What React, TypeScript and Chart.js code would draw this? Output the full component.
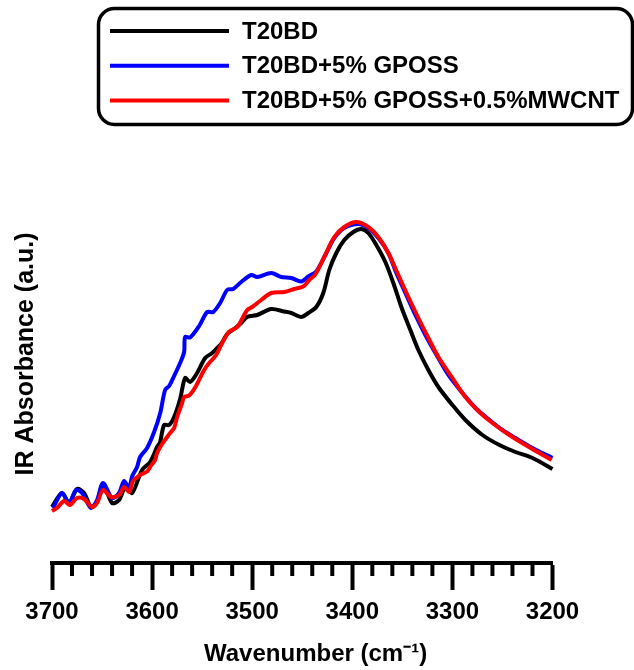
import React, { useEffect, useRef } from "react";
import { Chart, registerables } from "chart.js";

Chart.register(...registerables);

const seriesLabels = ["T20BD", "T20BD+5% GPOSS", "T20BD+5% GPOSS+0.5%MWCNT"];
const seriesColors = ["#000000", "#0000ff", "#ff0000"];

const xMin = 3200;
const xMax = 3700;
const majorStep = 100;
const minorStep = 20;
const xTitle = "    Wavenumber (cm\u207B\u00B9)";
const yTitle = "IR Absorbance (a.u.)";

const blackWavenumber = [3700, 3690, 3683, 3675, 3668, 3661, 3655, 3649, 3640, 3633, 3626, 3620, 3610, 3602, 3595, 3592, 3588, 3583, 3578, 3572, 3567, 3562, 3555, 3547, 3540, 3535, 3531, 3525, 3518, 3511, 3505, 3495, 3481, 3468, 3461, 3451, 3444, 3436, 3429, 3423, 3416, 3408, 3399, 3391, 3384, 3376, 3367, 3359, 3351, 3342, 3334, 3324, 3314, 3300, 3287, 3270, 3253, 3237, 3220, 3200];
const blackAbsorbance = [0.52, 0.66, 0.56, 0.70, 0.66, 0.52, 0.57, 0.75, 0.56, 0.59, 0.74, 0.66, 0.89, 0.97, 1.12, 1.17, 1.34, 1.34, 1.42, 1.60, 1.81, 1.77, 1.86, 2.01, 2.06, 2.11, 2.15, 2.25, 2.30, 2.36, 2.42, 2.44, 2.50, 2.475, 2.46, 2.42, 2.46, 2.52, 2.66, 2.89, 3.06, 3.19, 3.27, 3.30, 3.26, 3.14, 2.97, 2.76, 2.52, 2.29, 2.09, 1.89, 1.72, 1.54, 1.39, 1.24, 1.14, 1.07, 1.01, 0.90];

const blueWavenumber = [3699, 3690, 3683, 3676, 3670, 3661, 3655, 3649, 3640, 3633, 3628, 3623, 3620, 3615, 3612, 3605, 3598, 3592, 3587, 3583, 3578, 3572, 3568, 3567, 3562, 3553, 3545, 3539, 3532, 3525, 3519, 3511, 3501, 3495, 3481, 3471, 3461, 3451, 3444, 3436, 3426, 3418, 3408, 3394, 3384, 3374, 3364, 3356, 3347, 3337, 3327, 3317, 3304, 3290, 3277, 3263, 3250, 3237, 3220, 3200];
const blueAbsorbance = [0.51, 0.66, 0.56, 0.69, 0.66, 0.51, 0.59, 0.76, 0.61, 0.66, 0.78, 0.71, 0.825, 0.92, 1.02, 1.11, 1.27, 1.455, 1.69, 1.73, 1.83, 1.96, 2.07, 2.22, 2.215, 2.33, 2.47, 2.47, 2.56, 2.69, 2.70, 2.77, 2.84, 2.82, 2.86, 2.82, 2.81, 2.775, 2.825, 2.875, 3.06, 3.21, 3.31, 3.35, 3.31, 3.21, 3.06, 2.86, 2.66, 2.44, 2.24, 2.06, 1.84, 1.66, 1.51, 1.39, 1.29, 1.21, 1.11, 1.01];

const redWavenumber = [3700, 3695, 3688, 3682, 3675, 3668, 3660, 3655, 3649, 3641, 3633, 3628, 3623, 3619, 3612, 3605, 3602, 3597, 3595, 3590, 3585, 3582, 3578, 3575, 3570, 3568, 3563, 3557, 3548, 3543, 3536, 3531, 3523, 3515, 3505, 3500, 3491, 3481, 3468, 3458, 3449, 3443, 3437, 3428, 3418, 3408, 3396, 3384, 3374, 3364, 3354, 3344, 3334, 3324, 3314, 3300, 3287, 3273, 3260, 3243, 3227, 3201];
const redAbsorbance = [0.48, 0.51, 0.58, 0.54, 0.61, 0.60, 0.52, 0.56, 0.69, 0.62, 0.64, 0.72, 0.67, 0.78, 0.84, 0.875, 0.92, 0.99, 1.06, 1.15, 1.22, 1.26, 1.31, 1.42, 1.56, 1.62, 1.635, 1.715, 1.89, 1.96, 2.04, 2.14, 2.275, 2.32, 2.49, 2.52, 2.59, 2.66, 2.67, 2.70, 2.725, 2.79, 2.845, 3.02, 3.22, 3.32, 3.37, 3.32, 3.22, 3.06, 2.84, 2.62, 2.41, 2.21, 2.02, 1.81, 1.62, 1.47, 1.36, 1.24, 1.14, 0.99];

const FONT = "'Liberation Sans', Arial, sans-serif";

function toPoints(xs: number[], ys: number[]) {
  return xs.map((x, i) => ({ x, y: ys[i] }));
}

const minorTickPlugin = {
  id: "minorTicks",
  afterDraw(chart: any) {
    const s = chart.scales.x;
    const ctx = chart.ctx;
    ctx.save();
    ctx.strokeStyle = "#000";
    ctx.lineWidth = 4;
    for (let v = xMin; v <= xMax; v += minorStep) {
      if (v % majorStep === 0) continue;
      const px = s.getPixelForValue(v);
      ctx.beginPath();
      ctx.moveTo(px, s.top);
      ctx.lineTo(px, s.top + 13);
      ctx.stroke();
    }
    ctx.restore();
  },
};

const boxLegendPlugin = {
  id: "boxLegend",
  afterDraw(chart: any) {
    const ctx = chart.ctx;
    ctx.save();
    ctx.lineWidth = 3.5;
    ctx.strokeStyle = "#000";
    ctx.beginPath();
    (ctx as any).roundRect(98.5, 8.5, 534, 116, 16);
    ctx.stroke();
    const ds = chart.data.datasets;
    ds.forEach((d: any, i: number) => {
      const y = 31 + i * 34.8;
      ctx.strokeStyle = d.borderColor;
      ctx.lineWidth = 4;
      ctx.beginPath();
      ctx.moveTo(110, y);
      ctx.lineTo(229, y);
      ctx.stroke();
      ctx.fillStyle = "#000";
      ctx.font = `bold 24px ${FONT}`;
      ctx.textBaseline = "middle";
      ctx.textAlign = "left";
      ctx.fillText(d.label, 242, y + 1);
    });
    ctx.restore();
  },
};

export default function App() {
  const ref = useRef<HTMLCanvasElement>(null);
  useEffect(() => {
    if (!ref.current) return;
    const datasets = [
      { label: seriesLabels[0], data: toPoints(blackWavenumber, blackAbsorbance), borderColor: seriesColors[0], order: 3 },
      { label: seriesLabels[1], data: toPoints(blueWavenumber, blueAbsorbance), borderColor: seriesColors[1], order: 2 },
      { label: seriesLabels[2], data: toPoints(redWavenumber, redAbsorbance), borderColor: seriesColors[2], order: 1 },
    ].map((d) => ({
      ...d,
      borderWidth: 4,
      pointRadius: 0,
      tension: 0.3,
      fill: false,
      clip: false as any,
    }));
    const chart = new Chart(ref.current, {
      type: "line",
      data: { datasets },
      options: {
        animation: false,
        responsive: false,
        layout: { padding: { top: 145, right: 81.5, bottom: 0, left: 0 } },
        plugins: { legend: { display: false }, tooltip: { enabled: false } },
        scales: {
          x: {
            type: "linear",
            reverse: true,
            min: xMin,
            max: xMax,
            afterFit: (s: any) => {
              s.height = 107;
            },
            border: { display: true, color: "#000", width: 4 },
            grid: {
              display: true,
              drawOnChartArea: false,
              drawTicks: true,
              tickLength: 27,
              tickWidth: 4,
              tickColor: (c: any) => (c.tick && c.tick.value % majorStep === 0 ? "#000" : "rgba(0,0,0,0)"),
            },
            ticks: {
              stepSize: minorStep,
              autoSkip: false,
              maxRotation: 0,
              padding: 8,
              color: "#000",
              font: { family: FONT, size: 24, weight: "bold" },
              callback: (v: any) => (Number(v) % majorStep === 0 ? String(v) : ""),
            },
            title: {
              display: true,
              text: xTitle,
              color: "#000",
              font: { family: FONT, size: 24, weight: "bold" },
              padding: { top: 0, bottom: 1 },
            },
          },
          y: {
            type: "linear",
            min: -0.04,
            max: 4.14,
            afterFit: (s: any) => {
              s.width = 52;
            },
            grid: { display: false },
            border: { display: false },
            ticks: { display: false },
            title: {
              display: true,
              text: yTitle,
              color: "#000",
              font: { family: FONT, size: 25, weight: "bold" },
              padding: { top: 11, bottom: 0 },
            },
          },
        },
      },
      plugins: [minorTickPlugin, boxLegendPlugin],
    } as any);
    return () => chart.destroy();
  }, []);
  return (
    <div style={{ position: "absolute", left: 0, top: 0, width: 634, height: 670, background: "#fff" }}>
      <canvas ref={ref} width={634} height={670} style={{ display: "block" }} />
    </div>
  );
}
